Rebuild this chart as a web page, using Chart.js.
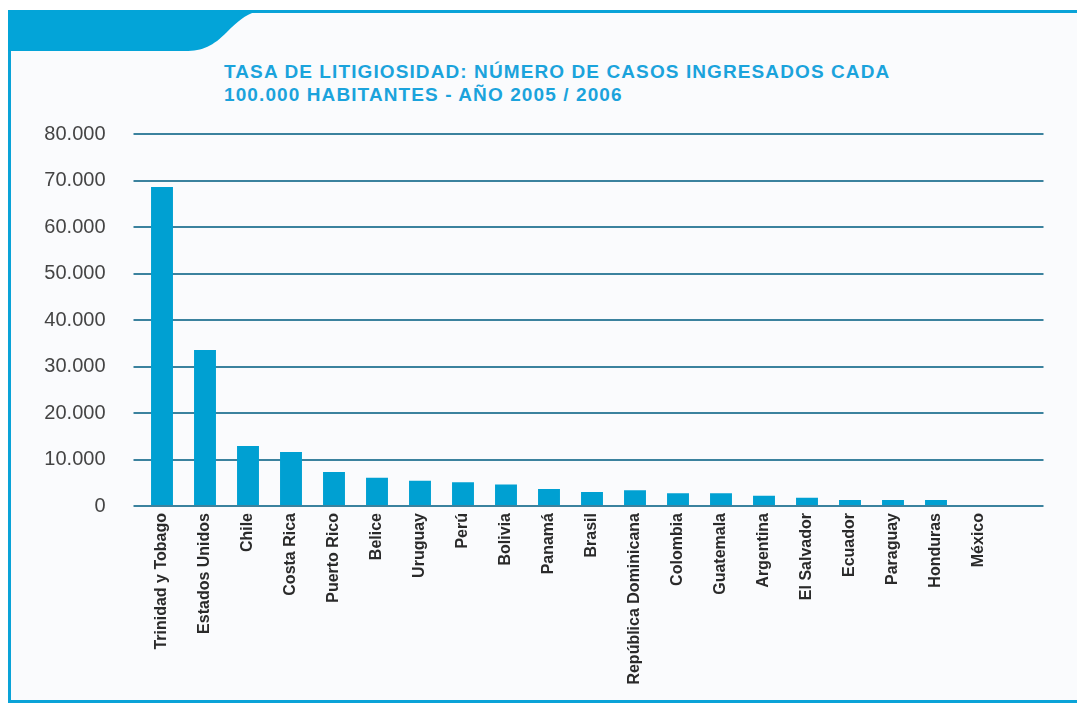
<!DOCTYPE html>
<html>
<head>
<meta charset="utf-8">
<script src="https://cdn.jsdelivr.net/npm/chart.js@4.4.1/dist/chart.umd.min.js"></script>
<style>
  html, body { margin: 0; padding: 0; background: #ffffff; }
  body { width: 1077px; height: 704px; position: relative; overflow: hidden; }
  #frame { position: absolute; left: 8px; top: 10px; width: 1100px; height: 687px;
           border: 3px solid #0aa3d8; border-right: none; background: #fafbfd; box-sizing: content-box; }
  #tab { position: absolute; left: 0; top: 0; }
  #title { position: absolute; left: 224px; top: 60px; font-family: "Liberation Sans", Arial, sans-serif;
           font-weight: bold; font-size: 19px; letter-spacing: 1.1px; line-height: 23px; color: #1ba3dc; white-space: nowrap; }
  #wrap { position: absolute; left: 0; top: 0; width: 1077px; height: 704px; }
</style>
</head>
<body>
<div id="frame"></div>
<svg id="tab" width="1077" height="60">
  <path d="M8,10 H270 C251,10 241,18 227,32 C213,46 203,51 185,51 H8 Z" fill="#03a4d8"/>
</svg>
<div id="title">TASA DE LITIGIOSIDAD: NÚMERO DE CASOS INGRESADOS CADA<br>100.000 HABITANTES - AÑO 2005 / 2006</div>
<div id="wrap"><canvas id="c" width="1077" height="704"></canvas></div>
<script>
const categories = ["Trinidad y Tobago", "Estados Unidos", "Chile", "Costa Rica", "Puerto Rico", "Belice",
  "Uruguay", "Perú", "Bolivia", "Panamá", "Brasil", "República Dominicana", "Colombia", "Guatemala",
  "Argentina", "El Salvador", "Ecuador", "Paraguay", "Honduras", "México"];
const casos = [68600, 33550, 12900, 11600, 7300, 6100, 5450, 5100, 4600, 3650, 3000, 3370, 2730, 2730,
  2220, 1790, 1290, 1290, 1290, 200];
const yTicks = [0, 10000, 20000, 30000, 40000, 50000, 60000, 70000, 80000];

// one empty slot at the end so the gridlines run past the last bar as in the original
const labels = categories.concat([""]);
const values = casos.concat([null]);

function fmt(v) {
  return String(v).replace(/\B(?=(\d{3})+(?!\d))/g, ".");
}

new Chart(document.getElementById("c"), {
  type: "bar",
  data: {
    labels: labels,
    datasets: [{
      data: values,
      backgroundColor: "#00a0d2",
      borderWidth: 0,
      barPercentage: 0.51,
      categoryPercentage: 1.0
    }]
  },
  options: {
    responsive: false,
    animation: false,
    devicePixelRatio: 1,
    layout: { padding: { left: 0, top: 134, right: 33.5, bottom: 0 } },
    plugins: { legend: { display: false }, tooltip: { enabled: false } },
    scales: {
      x: {
        grid: { display: false, drawTicks: false },
        border: { display: false },
        ticks: {
          minRotation: 90, maxRotation: 90, autoSkip: false, padding: 7,
          color: "#2a2a2a",
          font: { family: "'Liberation Sans', Arial, sans-serif", size: 16, weight: "bold" }
        },
        afterFit: s => { s.height = 198; }
      },
      y: {
        min: 0, max: 80000,
        afterBuildTicks: s => { s.ticks = yTicks.map(v => ({ value: v })); },
        grid: { color: "#3b829e", lineWidth: 2, tickLength: 7, tickColor: "#3b829e", drawTicks: true },
        border: { display: false },
        ticks: {
          padding: 28,
          color: "#444444",
          font: { family: "'Liberation Sans', Arial, sans-serif", size: 20 },
          callback: v => fmt(v)
        },
        afterFit: s => { s.width = 140.5; }
      }
    }
  }
});
</script>
</body>
</html>
